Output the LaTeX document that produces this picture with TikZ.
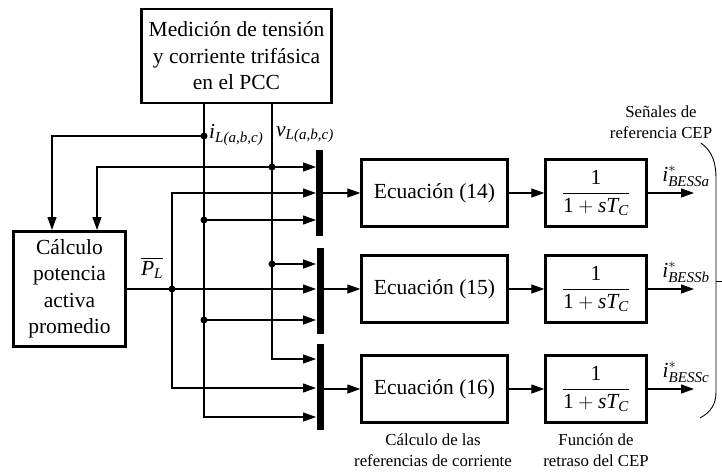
\documentclass[tikz,border=0pt]{standalone}
\usepackage{amsmath}
\usepackage{fontspec}
\setmainfont{Liberation Serif}
\usetikzlibrary{arrows.meta}

\tikzset{
  block/.style={draw, line width=2.4pt, inner sep=2pt, align=center,
    font=\fontsize{21.5}{26.5}\selectfont},
  eqbox/.style={minimum width=146pt, minimum height=67pt},
  tfbox/.style={minimum width=101pt, minimum height=67pt},
  muxbar/.style={fill=black, minimum width=7pt, minimum height=86pt, inner sep=0pt},
  wire/.style={line width=1.2pt},
  sig/.style={line width=1.2pt, -{Triangle[length=13pt,width=9pt]}},
  lbl/.style={inner sep=1pt, font=\fontsize{21.5}{26}\selectfont},
  note/.style={align=center, inner sep=0pt, font=\fontsize{16.8}{21}\selectfont},
}

\begin{document}
\begin{tikzpicture}[x=1pt,y=-1pt]
  \useasboundingbox (0,0) rectangle (722,472);

  % blocks
  \node[block, minimum width=190pt, minimum height=94pt] (meas) at (236.5,56)
    {Medición de tensión\\y corriente trifásica\\en el PCC};
  \node[block, minimum width=112pt, minimum height=115pt] (calc) at (69.5,289)
    {Cálculo\\potencia\\activa\\promedio};
  \node[muxbar] (mux1) at (319.5,193) {};
  \node[muxbar] (mux2) at (320.5,291) {};
  \node[muxbar] (mux3) at (320,387) {};
  \node[block, eqbox] (eq1) at (434.5,193) {Ecuación (14)};
  \node[block, eqbox] (eq2) at (434.5,289) {Ecuación (15)};
  \node[block, eqbox] (eq3) at (434.5,389) {Ecuación (16)};
  \node[block, tfbox] (tf1) at (596,193) {$\dfrac{\text{1}}{\text{1}+\textit{sT}_{\textit{C}}}$};
  \node[block, tfbox] (tf2) at (596,289) {$\dfrac{\text{1}}{\text{1}+\textit{sT}_{\textit{C}}}$};
  \node[block, tfbox] (tf3) at (596,389) {$\dfrac{\text{1}}{\text{1}+\textit{sT}_{\textit{C}}}$};

  % line positions and junctions
  \coordinate (ix) at (204,0);
  \coordinate (vx) at (272,0);
  \coordinate (ji1) at (204,136);
  \coordinate (jv1) at (272,167);
  \coordinate (jp) at (172,289);
  \coordinate (ji2) at (204,220);
  \coordinate (ji3) at (204,320);
  \coordinate (jv2) at (272,264);
  \coordinate (c1) at (52,230);
  \coordinate (c2) at (97,230);
  \coordinate (m1a) at (316,167);
  \coordinate (m1b) at (316,193);
  \coordinate (m1c) at (316,220);
  \coordinate (m2a) at (316,264);
  \coordinate (m2b) at (316,289);
  \coordinate (m2c) at (316,320);
  \coordinate (m3a) at (316,359);
  \coordinate (m3b) at (316,388);
  \coordinate (m3c) at (316,417);
  \coordinate (out1) at (694,193);
  \coordinate (out2) at (694,289);
  \coordinate (out3) at (694,389);

  % measured signals
  \draw[sig] (meas.south -| ix) |- (m3c);
  \draw[sig] (meas.south -| vx) |- (m3a);
  \draw[sig] (ji1) -| (c1);
  \draw[sig] (jv1) -| (c2);
  \draw[sig] (jv1) -- (m1a);
  \draw[sig] (ji2) -- (m1c);
  \draw[sig] (ji3) -- (m2c);
  \draw[sig] (jv2) -- (m2a);

  % average power
  \draw[sig] (calc.east) -- (m2b);
  \draw[sig] (jp) |- (m1b);
  \draw[sig] (jp) |- (m3b);

  \foreach \j in {ji1,jv1,jp,ji2,ji3,jv2}
    \fill (\j) circle (3.5pt);

  \foreach \k in {1,2,3} {
    \draw[sig] (mux\k.east |- eq\k.west) -- (eq\k.west);
    \draw[sig] (eq\k.east) -- (tf\k.west);
    \draw[sig] (tf\k.east) -- (out\k);
  }

  % labels
  \node[lbl, anchor=west] (ilab) at (208,135) {$\textit{i}_{\textit{L(a,b,c)}}$};
  \node[lbl, anchor=west] (vlab) at (275,135) {$\textit{v}_{\textit{L(a,b,c)}}$};
  \node[lbl] (plab) at (152,268) {$\overline{\textit{P}_{\textit{L}}}$};
  \node[lbl] (ia) at (686,176) {$\textit{i}^{*}_{\textit{BESSa}}$};
  \node[lbl] (ib) at (686,272) {$\textit{i}^{*}_{\textit{BESSb}}$};
  \node[lbl] (ic) at (686,372) {$\textit{i}^{*}_{\textit{BESSc}}$};

  \node[note] (sen) at (661,122) {Señales de\\referencia CEP};
  \node[note] (calcref) at (433,450) {Cálculo de las\\referencias de corriente};
  \node[note] (delay) at (596,450) {Función de\\retraso del CEP};

  % brace
  \draw[line width=0.9pt] (701,143) .. controls (713,152) and (716,163) .. (716,180)
    -- (716,392) .. controls (716,404) and (711,412) .. (700,418);
  \draw[line width=0.9pt] (716,281) -- (722,281);
\end{tikzpicture}
\end{document}
